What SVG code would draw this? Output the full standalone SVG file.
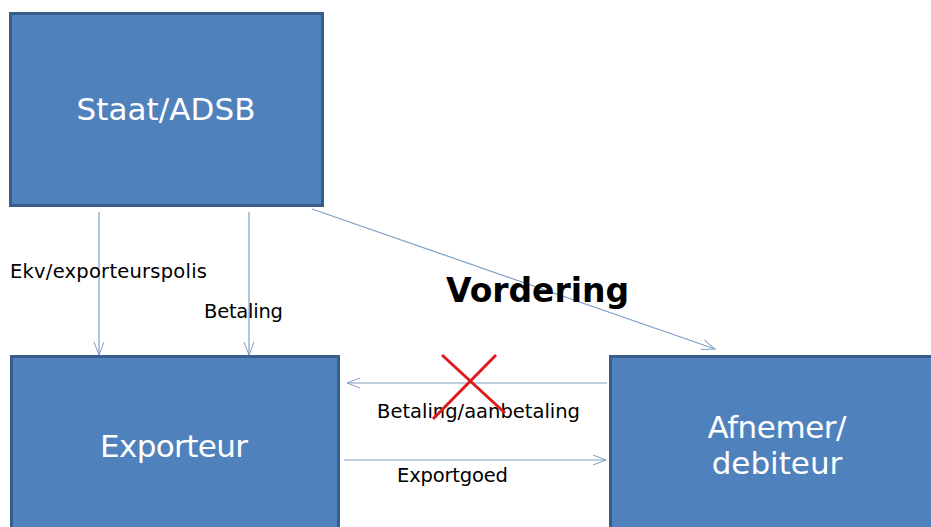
<svg xmlns="http://www.w3.org/2000/svg" width="931" height="527" viewBox="0 0 931 527">
<defs>
<marker id="arr" markerWidth="16" markerHeight="12" refX="14" refY="6" orient="auto" markerUnits="userSpaceOnUse">
<path d="M1,1 L14,6 L1,11" fill="none" stroke="#7f9fc4" stroke-width="1"/>
</marker>
<style>
.box{fill:#4f81bd;stroke:#385d8a;stroke-width:3}
.nt{fill:#ffffff;font-family:"DejaVu Sans",Verdana,sans-serif;font-size:31px;text-anchor:middle}
.lbl{fill:#000000;font-family:"DejaVu Sans",Verdana,sans-serif;font-size:19.5px}
.con{stroke:#7f9fc4;stroke-width:1.2;fill:none;marker-end:url(#arr)}
.x{stroke:#e01a1a;stroke-width:3}
</style>
</defs>
<rect width="931" height="527" fill="#ffffff"/>
<g id="staat">
<rect class="box" x="10.5" y="13.5" width="312" height="192"/>
<text class="nt" x="166" y="120" textLength="179">Staat/ADSB</text>
</g>
<g id="exporteur">
<rect class="box" x="11.5" y="356.5" width="327" height="180"/>
<text class="nt" x="174" y="457" textLength="148">Exporteur</text>
</g>
<g id="afnemer">
<rect class="box" x="610.5" y="356.5" width="330" height="180"/>
<text class="nt" x="777" y="438" textLength="139">Afnemer/</text>
<text class="nt" x="777" y="474">debiteur</text>
</g>
<g id="connectors">
<line class="con" x1="99" y1="212" x2="99" y2="355"/>
<line class="con" x1="249" y1="212" x2="249" y2="355"/>
<line class="con" x1="312" y1="209" x2="715" y2="349"/>
<line class="con" x1="607" y1="383" x2="347" y2="383"/>
<line class="con" x1="344" y1="460" x2="606" y2="460"/>
</g>
<g id="labels">
<text class="lbl" x="10" y="278" textLength="197">Ekv/exporteurspolis</text>
<text class="lbl" x="204" y="318" textLength="79">Betaling</text>
<text x="446" y="302" textLength="183" style="font-family:'DejaVu Sans',Verdana,sans-serif;font-weight:bold;font-size:33px;fill:#000">Vordering</text>
<text class="lbl" x="377" y="418" textLength="203">Betaling/aanbetaling</text>
<text class="lbl" x="397" y="482" textLength="111">Exportgoed</text>
</g>
<g id="cross">
<line class="x" x1="442" y1="355" x2="505" y2="413"/>
<line class="x" x1="496" y1="355" x2="433" y2="419"/>
</g>
</svg>
